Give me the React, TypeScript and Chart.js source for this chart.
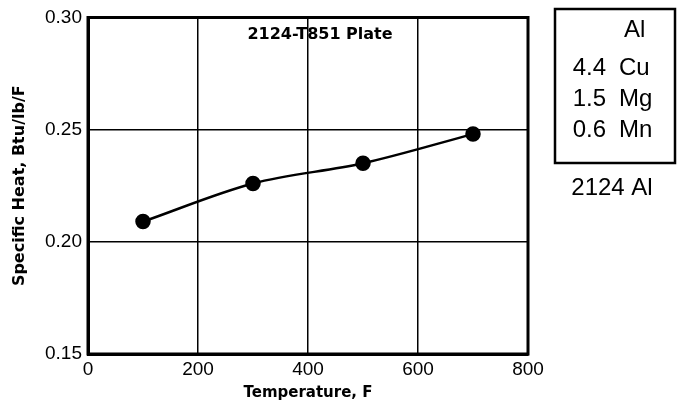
import React, { useEffect, useRef } from "react";
import { Chart, registerables } from "chart.js";

Chart.register(...registerables);

const temperatures = [100, 300, 500, 700];
const specificHeat = [0.209, 0.226, 0.235, 0.248];
const xTicks = [0, 200, 400, 600, 800];
const yTicks = [0.15, 0.2, 0.25, 0.3];
const chartTitle = "2124-T851 Plate";
const xTitle = "Temperature, F";
const yTitle = "Specific Heat, Btu/lb/F";
const compositionValues = ["", "4.4", "1.5", "0.6"];
const compositionElements = ["Al", "Cu", "Mg", "Mn"];
const alloyName = "2124 Al";

const FONT = "'Liberation Sans', Arial, Helvetica, sans-serif";
const BOLD_FONT = "'DejaVu Sans', 'Liberation Sans', Arial, sans-serif";

const overlayPlugin = {
  id: "overlay",
  afterDraw(chart: any) {
    const ctx = chart.ctx;
    const a = chart.chartArea;
    ctx.save();
    ctx.strokeStyle = "#000";
    ctx.lineWidth = 3;
    ctx.beginPath();
    ctx.moveTo(a.left, a.top);
    ctx.lineTo(a.right, a.top);
    ctx.lineTo(a.right, a.bottom);
    ctx.lineTo(a.left, a.bottom);
    ctx.closePath();
    ctx.stroke();
    // title
    ctx.fillStyle = "#000";
    ctx.font = `bold 16px ${BOLD_FONT}`;
    ctx.textAlign = "center";
    ctx.textBaseline = "middle";
    ctx.fillText(chartTitle, 320, 35);
    // composition box
    ctx.lineWidth = 2.5;
    ctx.strokeRect(555, 9, 120, 154);
    ctx.font = `24px ${FONT}`;
    ctx.textBaseline = "middle";
    const rows = [30, 68, 99, 130];
    for (let i = 0; i < rows.length; i++) {
      if (i === 0) {
        ctx.textAlign = "left";
        ctx.fillText(compositionElements[i], 624, rows[i]);
        continue;
      }
      ctx.textAlign = "right";
      ctx.fillText(compositionValues[i], 606, rows[i]);
      ctx.textAlign = "left";
      ctx.fillText(compositionElements[i], 619, rows[i]);
    }
    ctx.textAlign = "center";
    ctx.fillText(alloyName, 612, 188);
    ctx.restore();
  },
};

export default function App() {
  const ref = useRef<HTMLCanvasElement | null>(null);
  useEffect(() => {
    if (!ref.current) return;
    const chart = new Chart(ref.current, {
      type: "line",
      data: {
        datasets: [
          {
            data: temperatures.map((t, i) => ({ x: t, y: specificHeat[i] })),
            borderColor: "#000",
            backgroundColor: "#000",
            borderWidth: 2.5,
            pointRadius: 6.5,
            pointBackgroundColor: "#000",
            pointBorderColor: "#000",
            cubicInterpolationMode: "monotone",
            fill: false,
          },
        ],
      },
      options: {
        animation: false,
        responsive: false,
        maintainAspectRatio: false,
        layout: { padding: { left: 0, top: 12, right: 149, bottom: 0 } },
        plugins: { legend: { display: false }, tooltip: { enabled: false } },
        scales: {
          x: {
            type: "linear",
            min: 0,
            max: 800,
            afterBuildTicks: (s: any) => {
              s.ticks = xTicks.map((v) => ({ value: v }));
            },
            afterFit: (s: any) => {
              s.height = 56;
            },
            ticks: {
              color: "#000",
              font: { family: FONT, size: 19 },
              padding: 4,
              maxRotation: 0,
              callback: (v: any) => String(v),
            },
            grid: { color: "#000", lineWidth: 1.5, drawTicks: false },
            border: { color: "#000", width: 3 },
            title: {
              display: true,
              text: xTitle,
              color: "#000",
              font: { family: BOLD_FONT, size: 15, weight: "bold" },
              padding: { top: 0, bottom: 8 },
            },
          },
          y: {
            type: "linear",
            min: 0.15,
            max: 0.3,
            afterBuildTicks: (s: any) => {
              s.ticks = yTicks.map((v) => ({ value: v }));
            },
            afterFit: (s: any) => {
              s.width = 88;
            },
            ticks: {
              color: "#000",
              font: { family: FONT, size: 19 },
              padding: 6,
              callback: (v: any) => Number(v).toFixed(2),
            },
            grid: { color: "#000", lineWidth: 1.5, drawTicks: false },
            border: { color: "#000", width: 3 },
            title: {
              display: true,
              text: yTitle,
              color: "#000",
              font: { family: BOLD_FONT, size: 16, weight: "bold" },
              padding: { top: 10, bottom: 0 },
            },
          },
        },
      },
      plugins: [overlayPlugin],
    } as any);
    return () => chart.destroy();
  }, []);
  return (
    <div style={{ position: "absolute", left: 0, top: 0, width: 677, height: 410, background: "#fff" }}>
      <canvas ref={ref} width={677} height={410} style={{ width: 677, height: 410 }} />
    </div>
  );
}
